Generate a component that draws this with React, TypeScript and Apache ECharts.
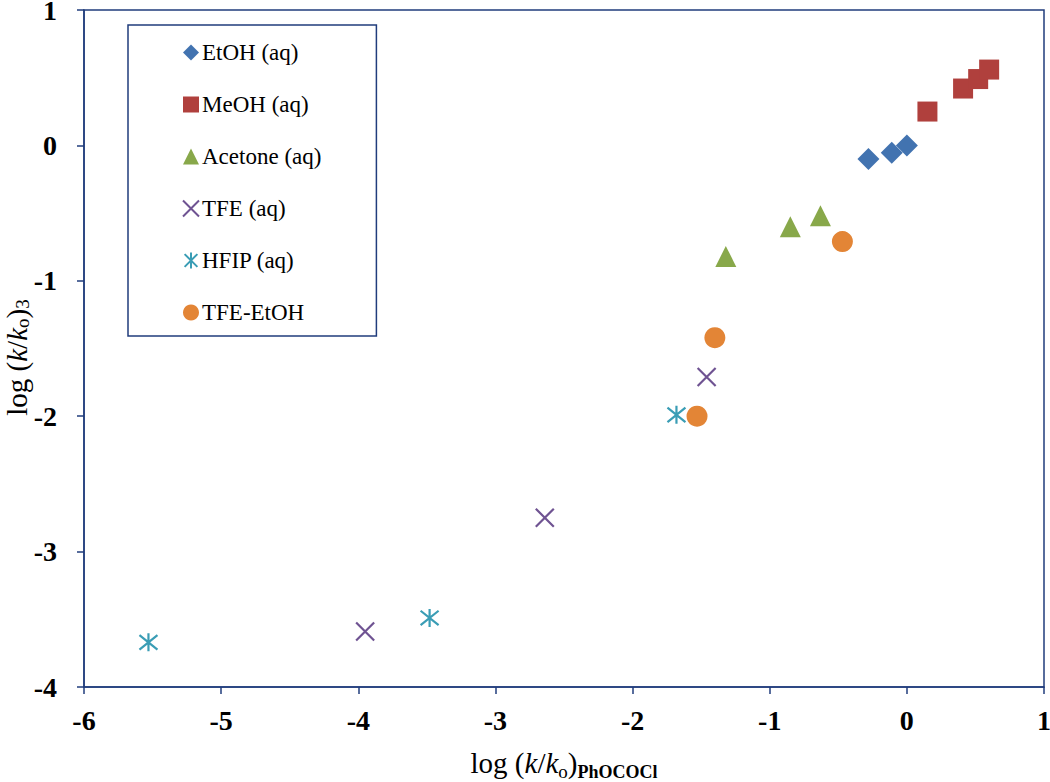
import React, { useEffect, useRef } from "react";
import * as echarts from "echarts";

const etohX = [-0.28, -0.11, 0.0];
const etohY = [-0.1, -0.055, 0.0];
const meohX = [0.15, 0.41, 0.52, 0.6];
const meohY = [0.25, 0.42, 0.49, 0.56];
const acetoneX = [-1.32, -0.85, -0.63];
const acetoneY = [-0.82, -0.6, -0.52];
const tfeX = [-3.95, -2.64, -1.46];
const tfeY = [-3.59, -2.75, -1.71];
const hfipX = [-5.53, -3.48, -1.68];
const hfipY = [-3.67, -3.49, -1.99];
const tfeEtohX = [-1.53, -1.4, -0.47];
const tfeEtohY = [-2.0, -1.42, -0.71];

const seriesNames = ["EtOH (aq)", "MeOH (aq)", "Acetone (aq)", "TFE (aq)", "HFIP (aq)", "TFE-EtOH"];
const xTicks = [-6, -5, -4, -3, -2, -1, 0, 1];
const yTicks = [-4, -3, -2, -1, 0, 1];

const NAVY = "#203C7C";
const SERIF = "'Liberation Serif', 'Times New Roman', serif";

const pts = (xs: number[], ys: number[]) => xs.map((x, i) => [x, ys[i]]);

const CROSS = "path://M0,0L10,10M10,0L0,10";
const STAR = "path://M1,1L9,9M9,1L1,9M5,0L5,10";

export default function App() {
  const ref = useRef<HTMLDivElement>(null);
  useEffect(() => {
    if (!ref.current) return;
    const chart = echarts.init(ref.current, undefined, { renderer: "svg" });
    const richX = {
      n: { fontFamily: SERIF, fontSize: 29, color: "#000", lineHeight: 36 },
      i: { fontFamily: SERIF, fontSize: 29, fontStyle: "italic", color: "#000", lineHeight: 36 },
      s: { fontFamily: SERIF, fontSize: 19, color: "#000", verticalAlign: "bottom", lineHeight: 20 },
      b: { fontFamily: SERIF, fontSize: 18, fontWeight: "bold", color: "#000", verticalAlign: "bottom", lineHeight: 20 },
    };
    const richY = {
      n: { fontFamily: SERIF, fontSize: 29, color: "#000", lineHeight: 30 },
      i: { fontFamily: SERIF, fontSize: 29, fontStyle: "italic", color: "#000", lineHeight: 30 },
      s: { fontFamily: SERIF, fontSize: 19, color: "#000", verticalAlign: "bottom", lineHeight: 16 },
    };
    const mk = (name: string, data: number[][], symbol: string, size: number, color: string, stroke = false) => ({
      name,
      type: "scatter",
      data,
      symbol,
      symbolSize: size,
      itemStyle: stroke
        ? { color: "rgba(0,0,0,0)", borderColor: color, borderWidth: 2.2, opacity: 1 }
        : { color, opacity: 1 },
      emphasis: { disabled: true },
    });
    const axisCommon = {
      type: "value",
      interval: 1,
      splitLine: { show: false },
      axisLine: { onZero: false, lineStyle: { color: NAVY, width: 1.5 } },
      axisTick: { show: true, length: 7, lineStyle: { color: NAVY, width: 1.5 } },
    };
    chart.setOption({
      animation: false,
      backgroundColor: "#fff",
      grid: {
        left: 84,
        right: 6,
        top: 10,
        bottom: 95,
        containLabel: false,
        outerBoundsMode: "none",
        show: true,
        borderColor: NAVY,
        borderWidth: 1.5,
      },
      legend: {
        orient: "vertical",
        left: 128,
        top: 25,
        padding: [16, 55, 12, 54],
        itemGap: 29,
        itemWidth: 16,
        itemHeight: 16,
        borderColor: NAVY,
        borderWidth: 1.5,
        backgroundColor: "#fff",
        data: seriesNames,
        textStyle: { fontFamily: SERIF, fontSize: 23, color: "#000", lineHeight: 22, padding: [0, 0, 0, -2] },
      },
      xAxis: {
        ...axisCommon,
        min: xTicks[0],
        max: xTicks[xTicks.length - 1],
        axisLabel: { fontFamily: SERIF, fontSize: 28, fontWeight: "bold", color: "#000", margin: 19 },
        name: "{n|log (}{i|k}{n|/}{i|k}{s|o}{n|)}{b|PhOCOCl}",
        nameLocation: "middle",
        nameGap: 58,
        nameMoveOverlap: false,
        nameTextStyle: { rich: richX },
      },
      yAxis: {
        ...axisCommon,
        min: yTicks[0],
        max: yTicks[yTicks.length - 1],
        axisLabel: { fontFamily: SERIF, fontSize: 28, fontWeight: "bold", color: "#000", margin: 27, lineHeight: 18 },
        name: "{n|log (}{i|k}{n|/}{i|k}{s|o}{n|)}{s|3}",
        nameLocation: "middle",
        nameGap: 52,
        nameRotate: 90,
        nameMoveOverlap: false,
        nameTextStyle: { rich: richY, padding: [0, 18, 0, 0] },
      },
      series: [
        mk(seriesNames[0], pts(etohX, etohY), "diamond", 22, "#4273B0"),
        mk(seriesNames[1], pts(meohX, meohY), "rect", 20, "#B0403D"),
        mk(seriesNames[2], pts(acetoneX, acetoneY), "triangle", 21, "#88A84A"),
        mk(seriesNames[3], pts(tfeX, tfeY), CROSS, 18, "#6F5392", true),
        mk(seriesNames[4], pts(hfipX, hfipY), STAR, 18, "#3A9DB5", true),
        mk(seriesNames[5], pts(tfeEtohX, tfeEtohY), "circle", 21, "#E38536"),
      ],
    });
    return () => chart.dispose();
  }, []);
  return (
    <div
      ref={ref}
      style={{ position: "fixed", left: 0, top: 0, width: 1050, height: 782, background: "#fff" }}
    />
  );
}
